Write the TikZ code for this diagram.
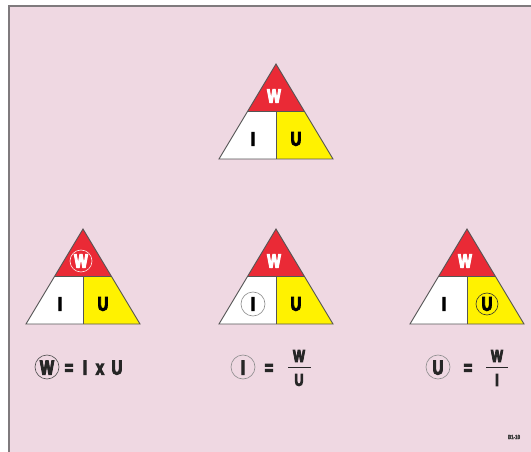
\documentclass[tikz,border=0pt]{standalone}
\usepackage{fontspec}
\newfontface\hf[FakeBold=5,FakeStretch=0.74]{Liberation Sans Bold}
\definecolor{bg}{HTML}{EFD8E2}
\definecolor{wred}{HTML}{EA2A36}
\definecolor{wyel}{HTML}{FFF200}
\definecolor{edgec}{HTML}{555555}
\definecolor{framec}{HTML}{7F7A7D}
\newcommand\drawtri[3]{%
  \fill[wred] (#2,#3) -- (#2+28.5,#3+47.5) -- (#2-28.5,#3+47.5) -- cycle;
  \fill[white] (#2-28.5,#3+47.5) -- (#2,#3+47.5) -- (#2,#3+95) -- (#2-57,#3+95) -- cycle;
  \fill[wyel] (#2,#3+47.5) -- (#2+28.5,#3+47.5) -- (#2+57,#3+95) -- (#2,#3+95) -- cycle;
  \draw[edge] (#2,#3) -- (#2+57,#3+95) -- (#2-57,#3+95) -- cycle;
  \draw[edge] (#2-28.5,#3+47.5) -- (#2+28.5,#3+47.5) (#2,#3+47.5) -- (#2,#3+95);
  \node[let, white] (#1W) at (#2-2,#3+32) {W};
  \node[let] (#1I) at (#2-23,#3+75) {I};
  \node[let] (#1U) at (#2+20,#3+75) {U};
}
\begin{document}
\begin{tikzpicture}[x=1pt,y=-1pt,
  edge/.style={draw=edgec, line width=0.9pt, line join=miter},
  let/.style={font=\hf\fontsize{19.5}{19.5}\selectfont, inner sep=0pt, text=black},
  flet/.style={font=\hf\fontsize{20}{20}\selectfont, inner sep=0pt, anchor=base, text=black!85},
  slet/.style={font=\hf\fontsize{17}{17}\selectfont, inner sep=0pt, text=black!85},
  circ/.style={circle, minimum size=22pt, inner sep=0pt, line width=0.6pt}]
\useasboundingbox (0,0) rectangle (531,452);
\fill[white] (0,0) rectangle (531,452);
\fill[bg] (9,6) rectangle (531,452);
\draw[framec, line width=1.5pt] (9,452) -- (9,6) -- (531,6);
% triangles
\drawtri{t}{276}{64}
\drawtri{a}{83}{229}
\drawtri{b}{276}{229}
\drawtri{c}{467}{229}
% circles in triangles
\node[circ, draw=white!90!wred] (ca) at (aW) {};
\node[circ, draw=black!45, minimum size=24pt] (cb) at (bI) {};
\node[circ, draw=black!80] (cc) at (cU) {};
% formula 1
\node[flet] (f1W) at (47,374.5) {W};
\node[circ, draw=black!70, minimum size=24pt] (f1c) at (47,367) {};
\node[flet] (f1eq) at (69,374.5) {=};
\node[flet] (f1I) at (85,374.5) {I};
\node[flet] (f1x) at (100,374.5) {x};
\node[flet] (f1U) at (117,374.5) {U};
% formula 2
\node[flet] (f2I) at (243,374.5) {I};
\node[circ, draw=black!45, minimum size=24pt] (f2c) at (243,367) {};
\node[flet] (f2eq) at (269,374.5) {=};
\node[slet] (f2W) at (299,356) {W};
\node[slet] (f2U) at (299,380) {U};
\coordinate (f2l) at (288,367.5);
\coordinate (f2r) at (311,367.5);
\draw[black!85, line width=1.4pt] (f2l) -- (f2r);
% formula 3
\node[flet] (f3U) at (438,374.5) {U};
\node[circ, draw=black!45, minimum size=24pt] (f3c) at (438,367) {};
\node[flet] (f3eq) at (468,374.5) {=};
\node[slet] (f3W) at (497,356) {W};
\node[slet] (f3I) at (497,380) {I};
\coordinate (f3l) at (486,367.5);
\coordinate (f3r) at (508,367.5);
\draw[black!85, line width=1.4pt] (f3l) -- (f3r);
% label
\node[font=\hf\fontsize{6}{6}\selectfont, text=black!75, inner sep=0pt] (lbl) at (514,437) {B1-10};
\end{tikzpicture}
\end{document}
